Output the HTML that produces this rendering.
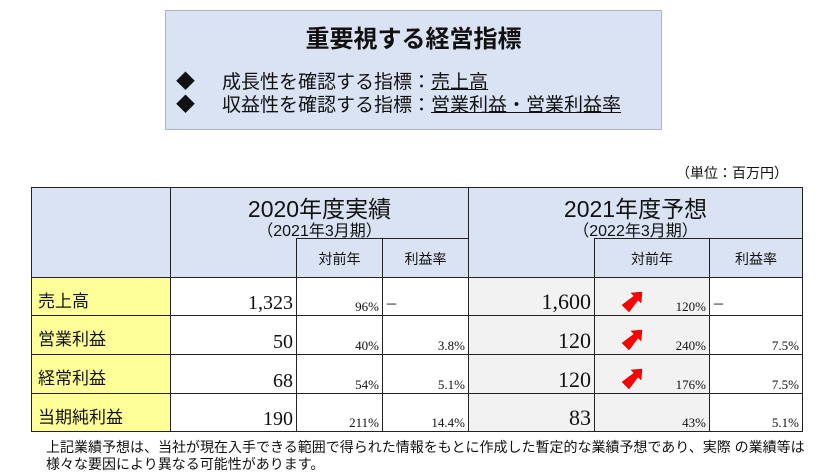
<!DOCTYPE html>
<html><head><meta charset="utf-8"><style>
body{margin:0;width:830px;height:474px;background:#fff;position:relative;overflow:hidden;font-family:"Liberation Sans","Noto Sans CJK JP",sans-serif;color:#111}
.a{position:absolute;box-sizing:border-box}
.c{position:absolute;box-sizing:border-box;border:1px solid #222}
.num{font-family:"Liberation Serif","Noto Serif CJK SC",serif;position:absolute;text-align:right;line-height:1}
.lab{font-size:17px;padding-left:6px;padding-top:9px;background:#ffff99}
.hd{background:#dae3f3}
.g{background:#f2f2f2}
</style></head><body>
<div class="a" style="left:165px;top:10px;width:497px;height:120px;background:#dae3f3;border:1px solid #aab4c4">
<div class="a" style="left:0;top:8px;width:100%;text-align:center;font-weight:bold;font-size:24px">重要視する経営指標</div>
<div class="a" style="left:10px;top:60px;font-size:19px;line-height:23px;white-space:nowrap"><span style="display:inline-block;width:46px">◆</span>成長性を確認する指標：<u>売上高</u></div>
<div class="a" style="left:10px;top:83px;font-size:19px;line-height:23px;white-space:nowrap"><span style="display:inline-block;width:46px">◆</span>収益性を確認する指標：<u>営業利益・営業利益率</u></div>
</div>
<div class="a" style="left:676px;top:163px;font-size:14px">（単位：百万円）</div>
<div id="tbl"></div>
<div class="a" style="left:46px;top:439px;font-size:14px;line-height:17px;white-space:nowrap">上記業績予想は、当社が現在入手できる範囲で得られた情報をもとに作成した暫定的な業績予想であり、実際 の業績等は<br>様々な要因により異なる可能性があります。</div>
<script>
const labels=["売上高","営業利益","経常利益","当期純利益"];
const actual=["1,323","50","68","190"];
const actualYoY=["96%","40%","54%","211%"];
const actualMargin=["－","3.8%","5.1%","14.4%"];
const forecast=["1,600","120","120","83"];
const forecastYoY=["120%","240%","176%","43%"];
const forecastMargin=["－","7.5%","7.5%","5.1%"];
const upArrow=[true,true,true,false];
const X=[31,170,296,382,468,594,709,802];
const Y=[277,315,354,393,431];
const t=document.getElementById('tbl');
function cell(x,y,w,h,cls,html){const d=document.createElement('div');d.className='c '+cls;d.style.left=x+'px';d.style.top=y+'px';d.style.width=(w+1)+'px';d.style.height=(h+1)+'px';d.innerHTML=html||'';t.appendChild(d);return d;}
let d;
d=cell(31,187,139,90,'hd');


d=cell(170,187,298,90,'hd','<div class="a" style="top:2px;width:100%;text-align:center;font-size:23px">2020年度実績</div><div class="a" style="top:29px;width:100%;text-align:center;font-size:16px">（2021年3月期）</div>');


d=cell(468,187,334,90,'hd','<div class="a" style="top:2px;width:100%;text-align:center;font-size:23px">2021年度予想</div><div class="a" style="top:29px;width:100%;text-align:center;font-size:16px">（2022年3月期）</div>');


const subs=[[296,382,'対前年'],[382,468,'利益率'],[594,709,'対前年'],[709,802,'利益率']];
subs.forEach(s=>{const e=cell(s[0],238,s[1]-s[0],39,'hd','<div class="a" style="top:10px;width:100%;text-align:center;font-size:14px">'+s[2]+'</div>');

});
function num(v,size){return '<div class="num" style="right:3px;bottom:2px;font-size:'+size+'px">'+v+'</div>';}
function dash(v){return v==='－'?'<div class="a" style="left:2px;bottom:2px;font-size:13px">－</div>':num(v,13);}
labels.forEach((l,i)=>{const y=Y[i],h=Y[i+1]-Y[i];
let e=cell(X[0],y,X[1]-X[0],h,'lab',l);


e=cell(X[1],y,X[2]-X[1],h,'',num(actual[i],20));


e=cell(X[2],y,X[3]-X[2],h,'',num(actualYoY[i],13));


e=cell(X[3],y,X[4]-X[3],h,'',dash(actualMargin[i]));


e=cell(X[4],y,X[5]-X[4],h,'g',num(forecast[i],22));


let arr=upArrow[i]?'<svg class="a" style="left:25px;top:13px" width="24" height="24" viewBox="0 0 24 24"><polygon points="11,2 22,1 21,12 18,9 9,21 2,14 14,5" fill="#f00" stroke="#c00" stroke-width="0.5"/></svg>':'';
e=cell(X[5],y,X[6]-X[5],h,'g',arr+num(forecastYoY[i],13));


e=cell(X[6],y,X[7]-X[6],h,'',dash(forecastMargin[i]));


});
</script>
</body></html>
